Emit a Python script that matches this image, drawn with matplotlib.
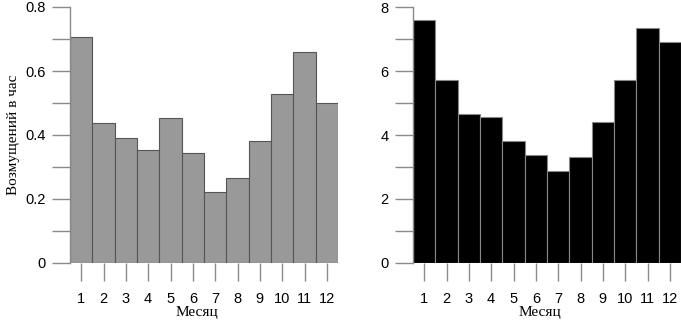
import matplotlib
matplotlib.use('Agg')
import matplotlib.pyplot as plt

months = [1, 2, 3, 4, 5, 6, 7, 8, 9, 10, 11, 12]
month_labels = ['1', '2', '3', '4', '5', '6', '7', '8', '9', '10', '11', '12']
left_values = [0.705, 0.438, 0.392, 0.353, 0.452, 0.345, 0.221, 0.265, 0.382, 0.527, 0.658, 0.500]
right_values = [7.60, 5.71, 4.66, 4.57, 3.80, 3.38, 2.88, 3.31, 4.40, 5.73, 7.33, 6.92]

W, H = 681, 322
fig = plt.figure(figsize=(W / 100, H / 100), dpi=100)

tick_font = {'family': ['Liberation Sans', 'DejaVu Sans'], 'size': 10.5}
label_font = {'family': ['Liberation Serif', 'DejaVu Serif'], 'size': 11}
axis_grey = '#8a8a8a'


def setup(ax, ymax, major, minor, fmt):
    ax.set_xlim(0.5, 12.5)
    ax.set_ylim(0, ymax)
    for s in ['top', 'right', 'bottom']:
        ax.spines[s].set_visible(False)
    ax.spines['left'].set_color(axis_grey)
    ax.spines['left'].set_linewidth(1.0)
    ax.set_xticks(months)
    ax.set_xticklabels(month_labels, fontdict=tick_font)
    ax.set_yticks(major)
    ax.set_yticklabels([fmt(v) for v in major], fontdict=tick_font)
    ax.set_yticks(minor, minor=True)
    ax.tick_params(axis='x', length=13, width=1.0, color=axis_grey, pad=8)
    ax.tick_params(axis='y', which='both', length=13, width=1.0, color=axis_grey, pad=4.5)
    ax.set_xlabel('Месяц', fontdict=label_font, labelpad=0)
    ax.xaxis.set_label_coords(0.475, -0.168)


ax1 = fig.add_axes([70 / W, (H - 263) / H, 268 / W, 256 / H])
ax1.bar(months, left_values, width=1.0, color='#999999', edgecolor='#555555', linewidth=0.8)
setup(ax1, 0.8, [0, 0.2, 0.4, 0.6, 0.8], [0.1, 0.3, 0.5, 0.7],
      lambda v: '0' if v == 0 else '%.1f' % v)
ax1.set_ylabel('Возмущений в час', fontdict=label_font, labelpad=4)

ax2 = fig.add_axes([413 / W, (H - 263) / H, 268 / W, 256 / H])
ax2.bar(months, right_values, width=1.0, color='black', edgecolor='#888888', linewidth=0.8)
setup(ax2, 8, [0, 2, 4, 6, 8], [1, 3, 5, 7], lambda v: '%d' % v)

fig.savefig('out.png', dpi=100)
